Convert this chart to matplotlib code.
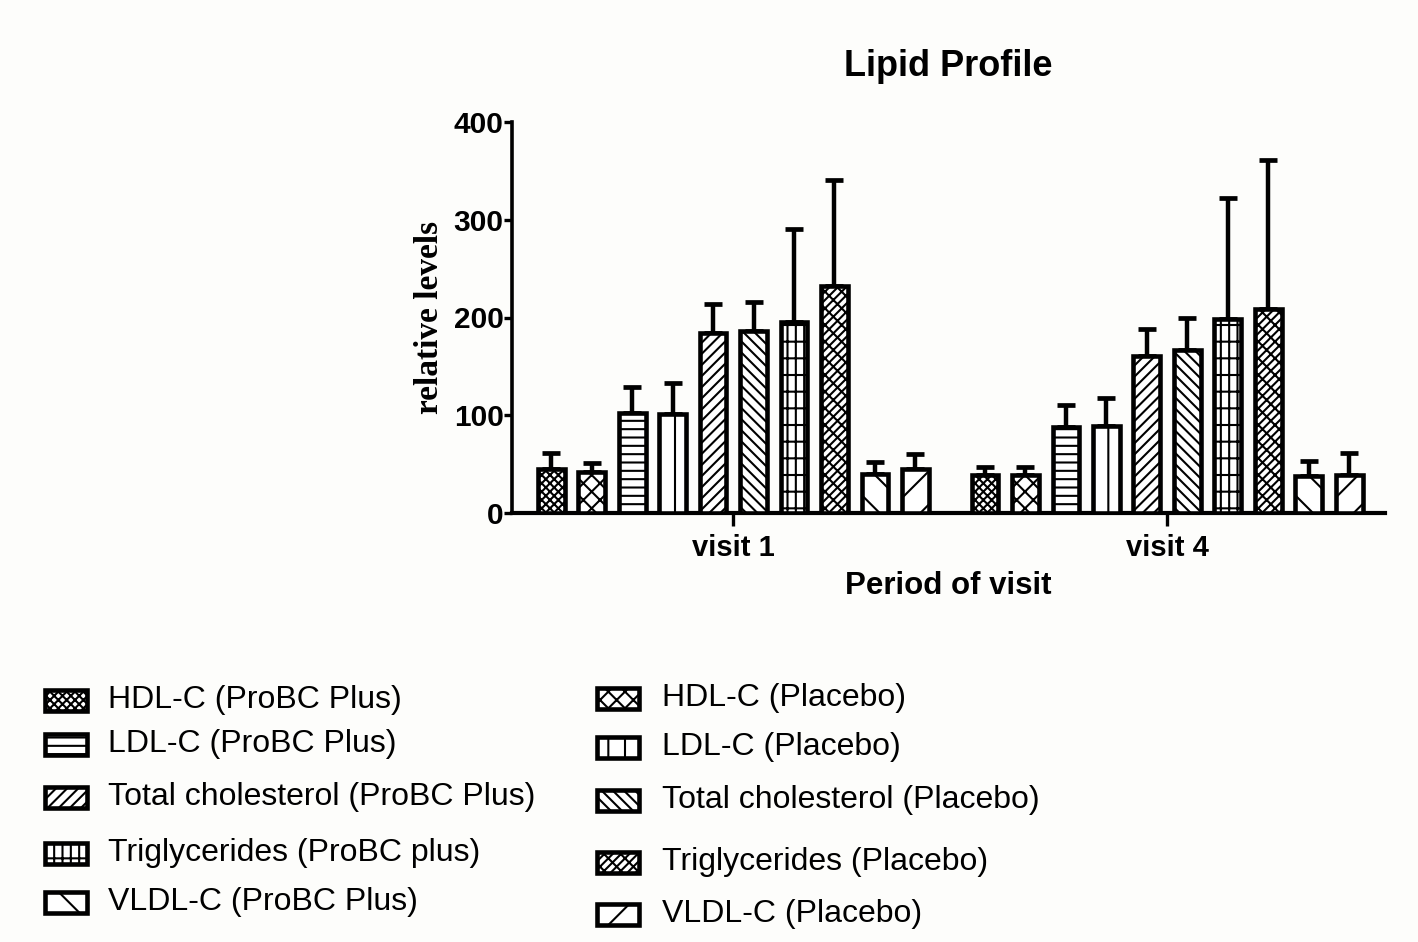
import matplotlib
matplotlib.use("Agg")
import matplotlib.pyplot as plt
from matplotlib.patches import Rectangle
import numpy as np

# ---------------- data ----------------
visits = ["visit 1", "visit 4"]
series_labels = [
    "HDL-C (ProBC Plus)", "HDL-C (Placebo)",
    "LDL-C (ProBC Plus)", "LDL-C (Placebo)",
    "Total cholesterol (ProBC Plus)", "Total cholesterol (Placebo)",
    "Triglycerides (ProBC plus)", "Triglycerides (Placebo)",
    "VLDL-C (ProBC Plus)", "VLDL-C (Placebo)",
]
means_visit1 = [44.7, 41.6, 102.0, 101.3, 183.8, 186.2, 195.0, 232.0, 39.9, 44.7]
means_visit4 = [38.9, 38.9, 87.7, 89.0, 160.6, 166.8, 198.1, 208.7, 37.9, 38.9]
err_visit1 = [16.3, 9.2, 26.6, 32.0, 30.0, 29.7, 95.5, 108.7, 12.6, 15.7]
err_visit4 = [7.8, 7.8, 22.8, 28.3, 27.6, 32.2, 123.9, 152.3, 15.3, 22.1]
yticks = [0, 100, 200, 300, 400]

# ---------------- style ----------------
hatches = ["xxxx", "xx", "--", "|", "///", "\\\\\\", "+|", "////\\\\", "\\", "/"]
plt.rcParams["hatch.linewidth"] = 1.5
plt.rcParams["font.family"] = ["Liberation Sans", "DejaVu Sans"]
bg = "#fdfdfb"

W, H = 1418, 942
fig = plt.figure(figsize=(W / 100, H / 100), dpi=100, facecolor=bg)
ax = fig.add_axes([512 / W, 1 - 513 / H, (1385 - 512) / W, (513 - 122) / H])
ax.set_facecolor(bg)

step = 0.0933
width = 0.062
x = np.arange(len(visits))
means = np.array([means_visit1, means_visit4])
errs = np.array([err_visit1, err_visit4])
n = len(series_labels)
for i in range(n):
    pos = x + (i - (n - 1) / 2) * step
    ax.bar(pos, means[:, i], width=width, facecolor="white", edgecolor="black",
           linewidth=3.3, hatch=hatches[i], zorder=3)
    ax.errorbar(pos, means[:, i], yerr=[np.zeros(len(visits)), errs[:, i]],
                fmt="none", ecolor="black", elinewidth=3.2, capsize=6.5,
                capthick=3.4, zorder=2)

ax.set_xlim(-0.51, 1.502)
ax.set_ylim(0, 400)
ax.set_yticks(yticks)
ax.set_xticks(x)
ax.set_xticklabels(visits)
for s in ["top", "right"]:
    ax.spines[s].set_visible(False)
ax.spines["left"].set_linewidth(2.6)
ax.spines["bottom"].set_linewidth(3.0)
ax.tick_params(axis="y", length=6, width=2.4, pad=0, labelsize=21.5)
ax.tick_params(axis="x", length=9, width=2.4, pad=6, labelsize=21)
for lab in ax.get_xticklabels() + ax.get_yticklabels():
    lab.set_fontweight("bold")

ax.set_title("Lipid Profile", fontsize=26, fontweight="bold",
             y=1 + (122 - 66) / 391, va="center", pad=0)
ax.set_xlabel("Period of visit", fontsize=22.5, fontweight="bold", va="center")
ax.xaxis.set_label_coords(0.5, (513 - 586) / 391)
ax.set_ylabel("relative levels", fontsize=24, fontweight="bold",
              family=["Liberation Serif", "DejaVu Serif"], va="center")
ax.yaxis.set_label_coords((430 - 512) / 873, 0.5)

# ---------------- legend (two hand-placed columns) ----------------
left_rows = [700, 744, 797, 853, 902]
right_rows = [698, 747, 800, 862, 914]
cols = [(45, 108, left_rows, range(0, n, 2)), (597, 662, right_rows, range(1, n, 2))]
pw, ph = 42, 21
for px, tx, rows, idxs in cols:
    for yc, i in zip(rows, idxs):
        r = Rectangle((px / W, 1 - (yc + ph / 2) / H), pw / W, ph / H,
                      transform=fig.transFigure, facecolor="white",
                      edgecolor="black", linewidth=3.3, hatch=hatches[i])
        fig.add_artist(r)
        fig.text(tx / W, 1 - yc / H, series_labels[i], fontsize=23,
                 va="center", ha="left")

fig.savefig("out.png", dpi=100, facecolor=bg)
